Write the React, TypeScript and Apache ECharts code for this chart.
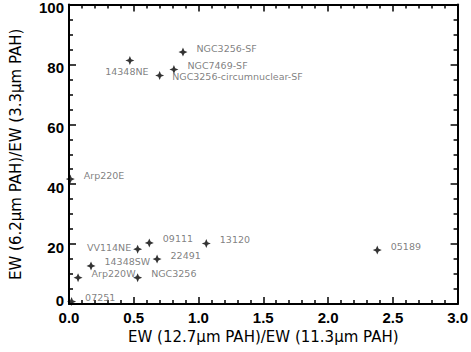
import React, { useEffect, useRef } from "react";
import * as echarts from "echarts";

const names = [
  "NGC3256-SF", "14348NE", "NGC7469-SF", "NGC3256-circumnuclear-SF", "Arp220E",
  "09111", "VV114NE", "13120", "22491", "14348SW", "Arp220W", "NGC3256", "07251", "05189",
];
const xValues = [0.88, 0.47, 0.81, 0.70, 0.01, 0.62, 0.53, 1.06, 0.68, 0.17, 0.07, 0.53, 0.02, 2.38];
const yValues = [84.1, 81.3, 78.3, 76.3, 41.7, 20.4, 18.3, 20.2, 15.0, 12.7, 8.8, 8.8, 0.8, 18.0];

const xTickLabels = ["0.0", "0.5", "1.0", "1.5", "2.0", "2.5", "3.0"];
const yTickLabels = ["0", "20", "40", "60", "80", "100"];

const labelStyleFor = (name: string) => {
  const base = {
    show: true,
    formatter: name,
    color: "#606060",
    fontSize: 9.5,
    fontFamily: "DejaVu Sans, sans-serif",
  };
  if (name === "14348NE") return { ...base, position: "bottom", distance: 1, offset: [-3, 0] };
  if (name === "VV114NE") return { ...base, position: "left", distance: 2, offset: [0, -2] };
  if (name === "NGC3256-circumnuclear-SF") return { ...base, position: "right", distance: 8, offset: [0, 1] };
  return { ...base, position: "right", distance: 9, offset: [0, -4] };
};

const STAR = "path://M0,-10 L3,-3 L10,0 L3,3 L0,10 L-3,3 L-10,0 L-3,-3 Z";

export default function App() {
  const ref = useRef<HTMLDivElement>(null);
  useEffect(() => {
    if (!ref.current) return;
    const chart = echarts.init(ref.current, undefined, { renderer: "svg" });
    const tickFont = "Liberation Sans, Arial, sans-serif";
    const titleFont = "DejaVu Sans, sans-serif";
    const tickText = { color: "#000", fontSize: 15, fontWeight: "bold", fontFamily: tickFont };
    const axisCommon = {
      axisLine: { show: true, onZero: false, lineStyle: { color: "#000", width: 2 } },
      axisTick: { show: true, inside: true, length: 7, lineStyle: { color: "#000", width: 1.5 } },
      minorTick: { show: true, length: 4, lineStyle: { color: "#000", width: 1.5 } },
      splitLine: { show: false },
    };
    chart.setOption({
      animation: false,
      backgroundColor: "#fff",
      grid: { left: 67, right: 13, top: 4, bottom: 48, containLabel: false },
      xAxis: [
        {
          type: "value", min: 0, max: 3, interval: 0.5, position: "bottom",
          ...axisCommon,
          minorTick: { ...axisCommon.minorTick, splitNumber: 5 },
          axisLabel: {
            ...tickText, margin: 6,
            formatter: (v: number) => xTickLabels[Math.round(v / 0.5)] ?? "",
          },
          name: "EW (12.7μm PAH)/EW (11.3μm PAH)",
          nameLocation: "middle", nameGap: 25,
          nameTextStyle: { color: "#000", fontSize: 15, fontFamily: titleFont },
        },
        {
          type: "value", min: 0, max: 3, interval: 0.5, position: "top",
          ...axisCommon,
          minorTick: { ...axisCommon.minorTick, splitNumber: 5 },
          axisLabel: { show: false },
        },
      ],
      yAxis: [
        {
          type: "value", min: 0, max: 100, interval: 20, position: "left",
          ...axisCommon,
          minorTick: { ...axisCommon.minorTick, splitNumber: 4 },
          axisLabel: {
            ...tickText, margin: 5,
            formatter: (v: number) => {
              const t = yTickLabels[Math.round(v / 20)] ?? "";
              return v === 0 ? `{z|${t}}` : `{n|${t}}`;
            },
            rich: {
              z: { ...tickText, padding: [0, 0, 8, 0] },
              n: { ...tickText, padding: [6, 0, 0, 0] },
            },
          },
          name: "EW (6.2μm PAH)/EW (3.3μm PAH)",
          nameLocation: "middle", nameGap: 46,
          nameTextStyle: { color: "#000", fontSize: 15, fontFamily: titleFont },
        },
        {
          type: "value", min: 0, max: 100, interval: 20, position: "right",
          ...axisCommon,
          minorTick: { ...axisCommon.minorTick, splitNumber: 4 },
          axisLabel: { show: false },
        },
      ],
      series: [
        {
          type: "scatter",
          symbol: STAR,
          symbolSize: 9,
          itemStyle: { color: "#000" },
          clip: false,
          data: names.map((n, i) => ({
            name: n,
            value: [xValues[i], yValues[i]],
            label: labelStyleFor(n),
          })),
        },
      ],
    });
    return () => chart.dispose();
  }, []);
  return <div ref={ref} style={{ position: "absolute", left: 0, top: 0, width: 471, height: 352 }} />;
}
